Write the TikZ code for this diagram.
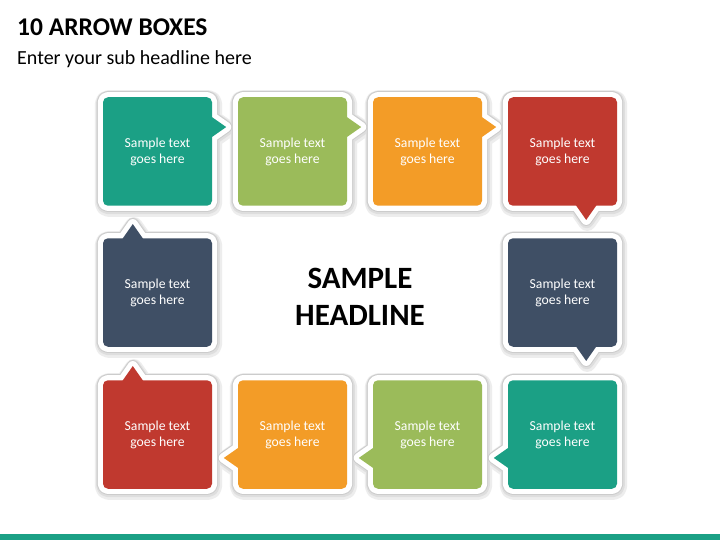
\documentclass[tikz,border=0pt]{standalone}
\usepackage{fontspec}
\setmainfont{Carlito}
\usetikzlibrary{calc}
\definecolor{cteal}{RGB}{27,160,133}
\definecolor{cgreen}{RGB}{155,187,90}
\definecolor{corange}{RGB}{243,156,39}
\definecolor{cred}{RGB}{192,57,47}
\definecolor{cnavy}{RGB}{63,79,101}
\pgfdeclarelayer{bg}
\pgfdeclarelayer{shA}
\pgfdeclarelayer{shB}
\pgfdeclarelayer{frA}
\pgfdeclarelayer{frB}
\pgfsetlayers{bg,shA,shB,frA,frB,main}
\tikzset{
  boxbody/.style={minimum width=109pt,minimum height=108.5pt,inner sep=0pt,
    rounded corners=5pt,fill=#1,text=white,align=center,
    font=\fontsize{13.7}{17}\selectfont},
  framepath/.style={insert path={[rounded corners=5pt] (#1.north west) rectangle (#1.south east) [sharp corners]}},
  tipR/.style={insert path={($(#1.north east)+(-1,19.5)$) -- ($(#1.north east)+(14,30)$) -- ($(#1.north east)+(-1,40.5)$) -- cycle}},
  tipD/.style={insert path={($(#1.south east)+(-41.5,-1)$) -- ($(#1.south east)+(-31,14)$) -- ($(#1.south east)+(-20.5,-1)$) -- cycle}},
  tipL/.style={insert path={($(#1.south west)+(1,-20.5)$) -- ($(#1.south west)+(-14,-31)$) -- ($(#1.south west)+(1,-41.5)$) -- cycle}},
  tipU/.style={insert path={($(#1.north west)+(19.5,1)$) -- ($(#1.north west)+(30,-14)$) -- ($(#1.north west)+(40.5,1)$) -- cycle}},
  shadowA/.style={draw=black!7,line width=18pt,line join=round,transform canvas={shift={(1,2)}}},
  shadowB/.style={draw=black!13,line width=14.5pt,line join=round,transform canvas={shift={(0.5,1)}}},
  rimgray/.style={draw=black!20,line width=12pt,line join=round},
  rimwhite/.style={draw=white,line width=10pt,line join=round},
}
\newcommand\abox[5]{%
  \node[boxbody=#4] (#1) at (#2,#3) {\raisebox{-1pt}{Sample text}\\goes here};
  \fill[#4] [tip#5=#1];
  \begin{pgfonlayer}{shA}\path[shadowA] [framepath=#1] [tip#5=#1];\end{pgfonlayer}
  \begin{pgfonlayer}{shB}\path[shadowB] [framepath=#1] [tip#5=#1];\end{pgfonlayer}
  \begin{pgfonlayer}{frA}\path[rimgray] [framepath=#1] [tip#5=#1];\end{pgfonlayer}
  \begin{pgfonlayer}{frB}\path[rimwhite] [framepath=#1] [tip#5=#1];\end{pgfonlayer}
}
\begin{document}
\begin{tikzpicture}[x=1pt,y=-1pt]
\useasboundingbox (0,0) rectangle (720,540);
\begin{pgfonlayer}{bg}
\fill[white] (0,0) rectangle (720,540);
\fill[cteal] (0,534) rectangle (720,540);
\end{pgfonlayer}
\node[anchor=base west,inner sep=0pt,font=\bfseries\fontsize{25.5}{30}\selectfont] (title) at (17,36) {10 ARROW BOXES};
\node[anchor=base west,inner sep=0pt,font=\fontsize{20}{24}\selectfont] (sub) at (17,65) {Enter your sub headline here};
\node[align=center,inner sep=0pt,font=\bfseries\fontsize{31}{37}\selectfont] (head) at (360,297) {SAMPLE\\HEADLINE};
\abox{b1}{157.5}{151.5}{cteal}{R}
\abox{b2}{292.5}{151.5}{cgreen}{R}
\abox{b3}{427.5}{151.5}{corange}{R}
\abox{b4}{562.5}{151.5}{cred}{D}
\abox{b5}{562.5}{292.5}{cnavy}{D}
\abox{b6}{562.5}{434.5}{cteal}{L}
\abox{b7}{427.5}{434.5}{cgreen}{L}
\abox{b8}{292.5}{434.5}{corange}{L}
\abox{b9}{157.5}{434.5}{cred}{U}
\abox{b10}{157.5}{292.5}{cnavy}{U}
\end{tikzpicture}
\end{document}
